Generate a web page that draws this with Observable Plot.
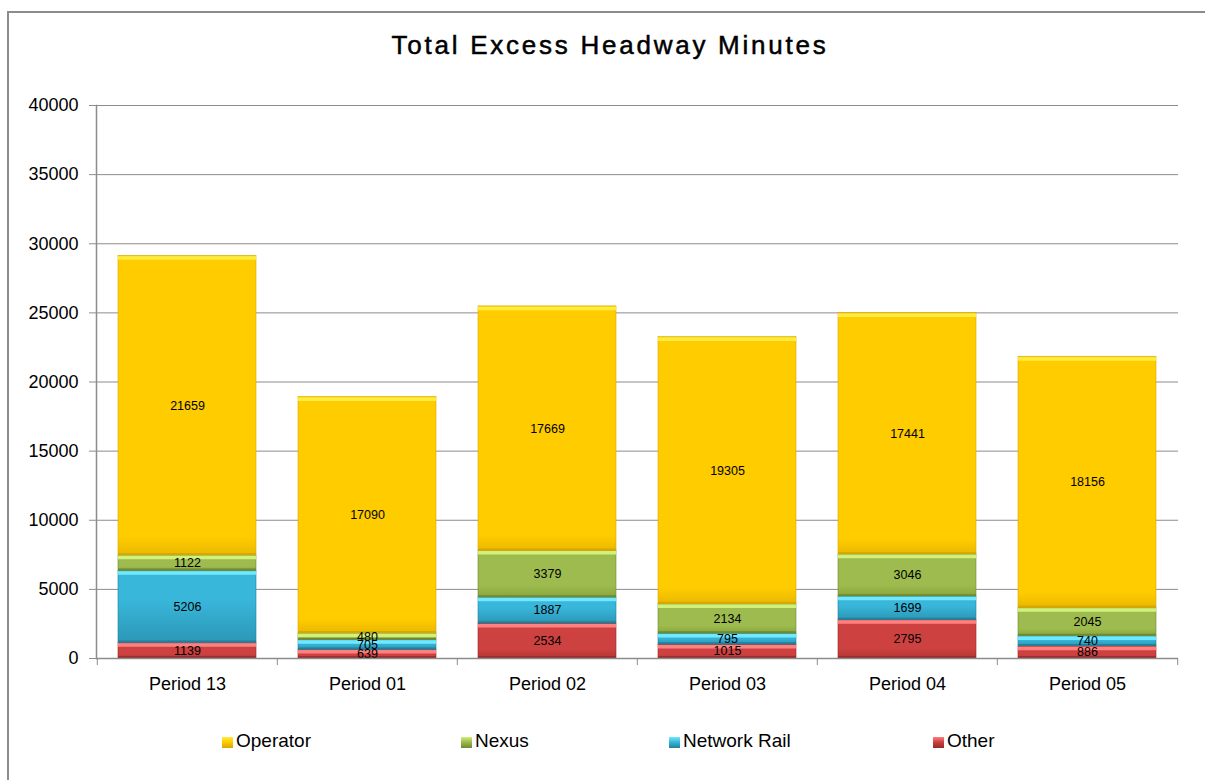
<!DOCTYPE html>
<html><head><meta charset="utf-8">
<script src="https://cdn.jsdelivr.net/npm/d3@7"></script>
<script src="https://cdn.jsdelivr.net/npm/@observablehq/plot@0.6"></script>
<style>
body{margin:0;background:#fff;font-family:"Liberation Sans",Arial,sans-serif;}
#wrap{position:relative;width:1205px;height:780px;overflow:hidden;background:#fff;}
#frame{position:absolute;left:7px;top:11px;width:1300px;height:900px;border-left:2px solid #8c8c8c;border-top:2px solid #8c8c8c;}
#title{position:absolute;left:0;width:1220px;top:30px;text-align:center;font-size:26px;letter-spacing:2.75px;color:#000;-webkit-text-stroke:0.5px #000;}
#chart{position:absolute;left:0;top:90px;}
.leg{position:absolute;top:730px;font-size:19px;color:#000;white-space:nowrap;line-height:22px;}
.sw{display:inline-block;width:11px;height:11px;margin-right:3px;vertical-align:-1px;}
</style>
</head><body>
<div id="wrap">
  <div id="frame"></div>
  <div id="title">Total Excess Headway Minutes</div>
  <div id="chart"></div>
  <div id="legend"></div>
</div>
<script>
// ---- data ----
const periods = ["Period 13", "Period 01", "Period 02", "Period 03", "Period 04", "Period 05"];
const seriesNames = ["Other", "Network Rail", "Nexus", "Operator"]; // bottom to top
const other = [1139, 639, 2534, 1015, 2795, 886];
const networkRail = [5206, 705, 1887, 795, 1699, 740];
const nexus = [1122, 480, 3379, 2134, 3046, 2045];
const operator = [21659, 17090, 17669, 19305, 17441, 18156];
const yTicks = [0, 5000, 10000, 15000, 20000, 25000, 30000, 35000, 40000];
const legendOrder = ["Operator", "Nexus", "Network Rail", "Other"];

// ---- styles ----
const palette = {
  "Operator":     {top: "#ffec40", base: "#ffcc00", bottom: "#eab800", edge: "#d9a800"},
  "Nexus":        {top: "#d2f07a", base: "#9dbb4e", bottom: "#8aa63e", edge: "#6f8a30"},
  "Network Rail": {top: "#70e8ff", base: "#38b7db", bottom: "#2c97b6", edge: "#237f9a"},
  "Other":        {top: "#ff8080", base: "#cd4240", bottom: "#b43432", edge: "#962a28"}
};
const ids = {"Operator": "gOp", "Nexus": "gNx", "Network Rail": "gNr", "Other": "gOt"};
const gradStart = {"Operator": "94%", "Nexus": "75%", "Network Rail": "40%", "Other": "75%"};
const legendX = {"Operator": 222, "Nexus": 461, "Network Rail": 669, "Other": 933};

const valuesBySeries = {"Other": other, "Network Rail": networkRail, "Nexus": nexus, "Operator": operator};
const data = [];
periods.forEach((p, i) => {
  seriesNames.forEach(s => data.push({period: p, series: s, value: valuesBySeries[s][i]}));
});

const axisColor = "#8c8c8c";
const plot = Plot.plot({
  width: 1205,
  height: 610,
  marginTop: 15,
  marginBottom: 42,
  marginLeft: 96,
  marginRight: 27,
  style: {fontFamily: "'Liberation Sans', Arial, sans-serif", background: "transparent", color: "#000"},
  x: {domain: periods, paddingInner: 0.233, paddingOuter: 0.1165, label: null},
  y: {domain: [0, 40000], label: null},
  color: {type: "identity"},
  marks: [
    Plot.ruleY(yTicks.slice(1), {stroke: axisColor, strokeWidth: 1}),
    Plot.barY(data, Plot.stackY({x: "period", y: "value", z: "series", fill: d => `url(#${ids[d.series]})`, stroke: d => palette[d.series].edge, strokeWidth: 0.6})),
    Plot.tickY(data, Plot.stackY2({x: "period", y: "value", z: "series", stroke: d => palette[d.series].top, strokeWidth: 3.5, dy: 2.2})),
    Plot.tickY(data, Plot.stackY1({x: "period", y: "value", z: "series", stroke: d => palette[d.series].edge, strokeWidth: 2, dy: -1.2})),
    Plot.text(data, Plot.stackY({x: "period", y: "value", z: "series", text: d => String(d.value), fontSize: 12.5, fill: "#000"})),
    Plot.ruleY([0], {stroke: axisColor, strokeWidth: 1.5}),
    Plot.frame({anchor: "left", stroke: axisColor, strokeWidth: 1.5}),
    Plot.axisY({ticks: yTicks, tickFormat: d => String(d), tickSize: 7, tickPadding: 11, fontSize: 18, stroke: axisColor, fill: "#000", label: null}),
    Plot.axisX({tickSize: 0, tickPadding: 19, fontSize: 18, fill: "#000", label: null}),
    Plot.axisX({tickSize: 7, text: null, dx: -90.2, stroke: axisColor, label: null}),
    Plot.axisX({ticks: [periods[periods.length - 1]], tickSize: 7, text: null, dx: 90.2, stroke: axisColor, label: null})
  ]
});

// gradient definitions for the bevelled bars
const svgSel = d3.select(plot);
const defs = svgSel.insert("defs", ":first-child");
Object.keys(ids).forEach(s => {
  const g = defs.append("linearGradient").attr("id", ids[s]).attr("x1", 0).attr("y1", 0).attr("x2", 0).attr("y2", 1);
  g.append("stop").attr("offset", "0%").attr("stop-color", palette[s].base);
  g.append("stop").attr("offset", gradStart[s]).attr("stop-color", palette[s].base);
  g.append("stop").attr("offset", "100%").attr("stop-color", palette[s].bottom);
});
document.getElementById("chart").appendChild(plot);

// legend
const legend = document.getElementById("legend");
legendOrder.forEach(s => {
  const item = document.createElement("div");
  item.className = "leg";
  item.style.left = legendX[s] + "px";
  const sw = document.createElement("span");
  sw.className = "sw";
  sw.style.background = `linear-gradient(to bottom, ${palette[s].top}, ${palette[s].base} 45%, ${palette[s].edge})`;
  item.appendChild(sw);
  item.appendChild(document.createTextNode(s));
  legend.appendChild(item);
});
</script>
</body></html>
